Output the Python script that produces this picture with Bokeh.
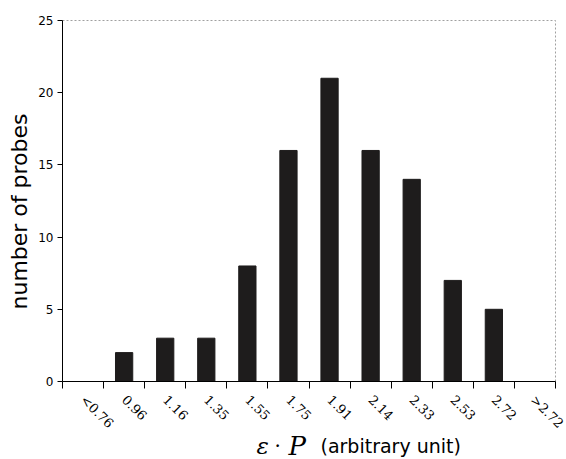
import numpy as np
from bokeh.plotting import figure
from bokeh.models import ColumnDataSource, FixedTicker, Label, Range1d, LinearAxis
from bokeh.embed import file_html
from bokeh.resources import INLINE

categories = ["<0.76", "0.96", "1.16", "1.35", "1.55", "1.75", "1.91", "2.14", "2.33", "2.53", "2.72", ">2.72"]
counts = [0, 2, 3, 3, 8, 16, 21, 16, 14, 7, 5, 0]
y_ticks = [0, 5, 10, 15, 20, 25]

n = len(categories)
centers = [i + 0.5 for i in range(n)]
bounds = list(range(n + 1))
y_max = y_ticks[-1]

W, H = 566, 459
# frame placement in pixels (left, right, top, bottom) of the data area
FL, FR, FT, FB = 62, 555, 20, 381
sx = (FR - FL) / n
sy = (FB - FT) / y_max

src = ColumnDataSource(dict(x=centers, top=counts, cat=categories))

p = figure(width=W, height=H,
           x_range=Range1d(-FL / sx, n + (W - FR) / sx),
           y_range=Range1d(-(H - FB) / sy, y_max + FT / sy),
           x_axis_type=None, y_axis_type=None,
           output_backend="svg", toolbar_location=None, min_border=0)

p.vbar(x="x", top="top", width=0.42, bottom=0, source=src,
       fill_color="#1e1c1c", line_color="#1e1c1c")

# top and right frame border (faint, dotted as in the scan)
p.line(x=[0, n, n], y=[y_max, y_max, 0], line_color="#a0a0a0", line_dash="2 2", line_width=1)

p.xgrid.visible = False
p.ygrid.visible = False
p.outline_line_color = None
p.background_fill_color = "white"
p.border_fill_color = "white"

xa = LinearAxis(fixed_location=0, bounds=(0, n))
xa.ticker = FixedTicker(ticks=centers, minor_ticks=bounds)
xa.major_label_overrides = {c: lab for c, lab in zip(centers, categories)}
xa.major_label_orientation = -np.pi / 4
xa.major_tick_line_color = None
xa.minor_tick_out = 7
xa.minor_tick_in = 0
xa.minor_tick_line_color = "black"
xa.axis_line_color = "black"
xa.major_label_text_font = "DejaVu Serif"
xa.major_label_text_font_size = "13px"
xa.major_label_text_color = "black"
xa.major_label_standoff = 9
p.add_layout(xa, "below")

ya = LinearAxis(fixed_location=0, bounds=(0, y_max))
ya.ticker = FixedTicker(ticks=y_ticks)
ya.major_tick_out = 5
ya.major_tick_in = 0
ya.minor_tick_line_color = None
ya.axis_line_color = "black"
ya.major_label_text_font = "DejaVu Sans"
ya.major_label_text_font_size = "12px"
ya.major_label_text_color = "black"
ya.major_label_standoff = 4
p.add_layout(ya, "left")

# screen units: x from canvas left, y from canvas bottom
XL_Y = 14
p.add_layout(Label(x=19, y=H - 211, x_units="screen", y_units="screen", text="number of probes",
                   angle=np.pi / 2, text_font="DejaVu Sans", text_font_size="22px",
                   text_align="center", text_baseline="middle", text_color="black"))
p.add_layout(Label(x=256, y=XL_Y, x_units="screen", y_units="screen", text="ε",
                   text_font="DejaVu Serif", text_font_style="italic", text_font_size="23px",
                   text_align="left", text_baseline="alphabetic", text_color="black"))
p.add_layout(Label(x=274, y=XL_Y, x_units="screen", y_units="screen", text="·",
                   text_font="DejaVu Serif", text_font_size="20px",
                   text_align="left", text_baseline="alphabetic", text_color="black"))
p.add_layout(Label(x=288, y=XL_Y, x_units="screen", y_units="screen", text="P",
                   text_font="DejaVu Serif", text_font_style="italic", text_font_size="26px",
                   text_align="left", text_baseline="alphabetic", text_color="black"))
p.add_layout(Label(x=320, y=XL_Y, x_units="screen", y_units="screen", text="(arbitrary unit)",
                   text_font="DejaVu Sans", text_font_size="19px",
                   text_align="left", text_baseline="alphabetic", text_color="black"))

open("out.html", "w").write(file_html(p, INLINE))
